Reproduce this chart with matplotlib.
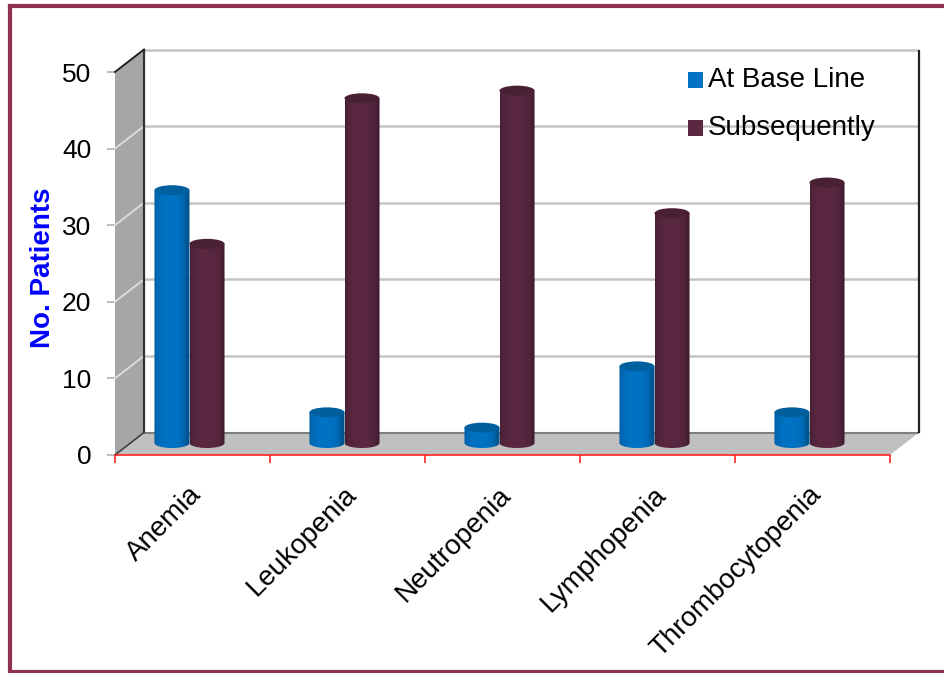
import numpy as np
import matplotlib
matplotlib.use('Agg')
import matplotlib.pyplot as plt
import matplotlib.colors as mcolors
from matplotlib.patches import Polygon, Ellipse, Rectangle
from matplotlib.lines import Line2D
from matplotlib.transforms import ScaledTranslation, IdentityTransform

plt.rcParams['font.family'] = ['Liberation Sans', 'DejaVu Sans']

categories = ['Anemia', 'Leukopenia', 'Neutropenia', 'Lymphopenia', 'Thrombocytopenia']
at_base_line = [33, 4, 2, 10, 4]
subsequently = [26, 45, 46, 30, 34]
series_names = ['At Base Line', 'Subsequently']
series_colors = ['#0073c4', '#5a2841']
top_colors = ['#005f9f', '#4a2034']
y_ticks = [0, 10, 20, 30, 40, 50]
y_label = 'No. Patients'

W, H, DPI = 944, 673, 100
fig = plt.figure(figsize=(W / DPI, H / DPI), dpi=DPI)
fig.patch.set_facecolor('white')

# front plane of the box
ax = fig.add_axes([115 / W, (H - 455) / H, 775 / W, 383 / H])
ax.patch.set_visible(False)
ax.set_xlim(0, len(categories))
ax.set_ylim(y_ticks[0], y_ticks[-1])


def shift(dx, dy):
    return ScaledTranslation(dx / DPI, dy / DPI, fig.dpi_scale_trans)


DX, DY = 29, 22.5                      # depth of the box
back = ax.transData + shift(DX, DY)
bars_t = ax.transData + shift(-3, 12)  # columns sit half way back


def disp(x, y, dx=0.0, dy=0.0):
    p = ax.transData.transform((x, y))
    return (p[0] + dx, p[1] + dy)


def seg(p, q, **kw):
    ax.add_artist(Line2D([p[0], q[0]], [p[1], q[1]], transform=IdentityTransform(),
                         clip_on=False, **kw))


n = len(categories)
ymax = y_ticks[-1]

# side wall and floor
ax.add_artist(Polygon([disp(0, 0), disp(0, ymax), disp(0, ymax, DX, DY), disp(0, 0, DX, DY)],
                      closed=True, transform=IdentityTransform(), facecolor='#a6a6a6',
                      edgecolor='none', zorder=1, clip_on=False))
ax.add_artist(Polygon([disp(0, 0), disp(n, 0), disp(n, 0, DX, DY), disp(0, 0, DX, DY)],
                      closed=True, transform=IdentityTransform(), facecolor='#c0c0c0',
                      edgecolor='none', zorder=1, clip_on=False))

# gridlines on back wall and side wall
ax.hlines(y_ticks[1:], 0, n, transform=back, colors='#c4c4c4', lw=1.8, zorder=1.5, clip_on=False)
ax.hlines([0], 0, n, transform=back, colors='#7f7f7f', lw=1.5, zorder=1.5, clip_on=False)
for t in y_ticks[1:]:
    seg(disp(0, t), disp(0, t, DX, DY), color='#dedede', lw=1.3, zorder=1.6)
ax.vlines([0], 0, ymax, transform=back, colors='#303030', lw=1.6, zorder=1.7, clip_on=False)
ax.vlines([n], 0, ymax, transform=back, colors='#202020', lw=1.6, zorder=1.7, clip_on=False)
seg(disp(0, ymax), disp(0, ymax, DX, DY), color='#202020', lw=1.4, zorder=1.7)
seg(disp(0, 0), disp(0, 0, DX, DY), color='#404040', lw=1.2, zorder=1.7)

# cylinders
w = 0.226
eh = 10 / (383 / ymax)


def cylinder(xc, h, color, top_color, z):
    x0, x1 = xc - w / 2, xc + w / 2
    t = np.linspace(0, 1, 80)
    shade = 0.74 + 0.26 * np.sin(np.pi * np.clip(t * 1.12, 0, 1)) ** 0.35
    rgb = np.array(mcolors.to_rgb(color))
    img = np.clip(shade[:, None] * rgb[None, :], 0, 1)[None, :, :]
    im = ax.imshow(img, extent=[x0, x1, -eh / 2, h], aspect='auto', transform=bars_t,
                   interpolation='bilinear', zorder=z)
    arc = np.linspace(np.pi, 2 * np.pi, 40)
    verts = [(x0, h)] + [(xc + w / 2 * np.cos(q), eh / 2 * np.sin(q)) for q in arc] + [(x1, h)]
    clip = Polygon(verts, closed=True, transform=bars_t, facecolor='none', edgecolor='none')
    ax.add_patch(clip)
    im.set_clip_path(clip)
    ax.add_patch(Ellipse((xc, h), w, eh, transform=bars_t, facecolor=top_color,
                         edgecolor='none', zorder=z + 0.1, clip_on=False))


for i in range(n):
    c = i + 0.5
    cylinder(c - w / 2, at_base_line[i], series_colors[0], top_colors[0], 3)
    cylinder(c + w / 2, subsequently[i], series_colors[1], top_colors[1], 3.2)

ax.set_xlim(0, n)
ax.set_ylim(y_ticks[0], y_ticks[-1])

# axes, ticks
for s in ['top', 'right', 'left']:
    ax.spines[s].set_visible(False)
ax.spines['bottom'].set_color('#ff2020')
ax.spines['bottom'].set_linewidth(1.2)
ax.spines['bottom'].set_zorder(2)
ax.set_xticks(np.arange(n + 1))
ax.set_xticklabels([])
ax.tick_params(axis='x', colors='#ff2020', length=6, width=1.2)
ax.set_yticks(y_ticks)
ax.tick_params(axis='y', colors='#b0b0b0', length=6, width=1.2, labelsize=19,
               labelcolor='black', pad=11)

for i, cat in enumerate(categories):
    ax.text(i + 0.5, 0, cat, transform=ax.transData + shift(5, -36), rotation=45,
            rotation_mode='anchor', ha='right', va='center', fontsize=20)

# y label
fig.text(43 / W, 1 - 268 / H, y_label, rotation=90, ha='center', va='center',
         color='#0000ff', fontsize=20, fontweight='bold')

# legend
for k, (name, col) in enumerate(zip(series_names, series_colors)):
    yc = [80, 128][k]
    fig.add_artist(Rectangle((688 / W, 1 - (yc + 7.5) / H), 15 / W, 15 / H,
                             transform=fig.transFigure, facecolor=col, edgecolor='none', zorder=5))
    fig.text(708 / W, 1 - yc / H, name, ha='left', va='center', fontsize=20, zorder=5)

# outer frame: top, left and bottom edges
frame = dict(transform=fig.transFigure, color='#8e3152', lw=3.0, zorder=6,
             solid_capstyle='projecting')
fig.add_artist(Line2D([10 / W, 1], [1 - 5.5 / H, 1 - 5.5 / H], **frame))
fig.add_artist(Line2D([10 / W, 10 / W], [1 - 5.5 / H, 1.5 / H], **frame))
fig.add_artist(Line2D([10 / W, 1], [1.5 / H, 1.5 / H], **frame))

fig.savefig('out.png', dpi=DPI)
